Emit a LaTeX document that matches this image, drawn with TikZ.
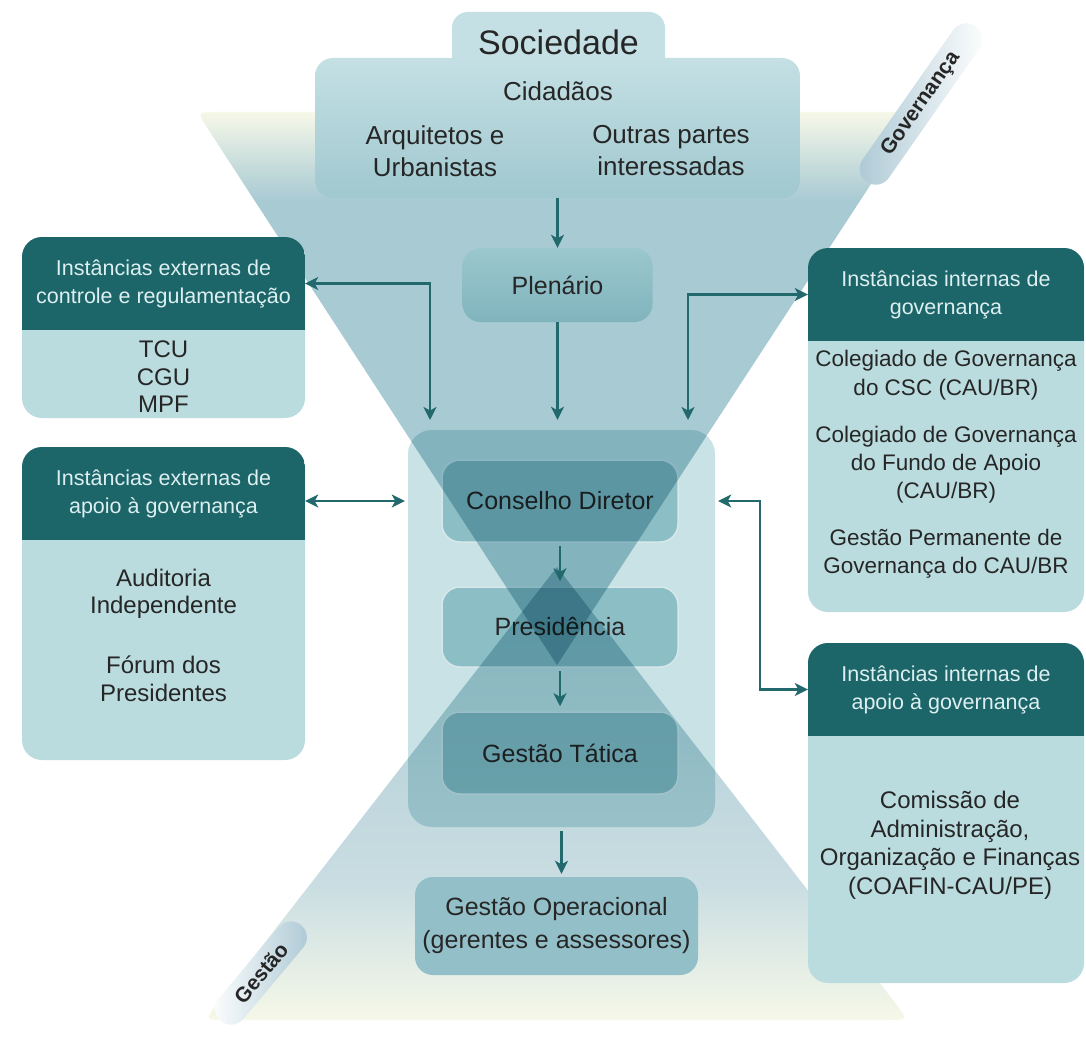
\documentclass[tikz,border=0pt]{standalone}
\usepackage{fontspec}
\setmainfont{Liberation Sans}
\usepackage{xcolor}
\usepackage{tikz}
\usetikzlibrary{shapes,arrows,arrows.meta,positioning}

\definecolor{headcol}{HTML}{1C6569}
\definecolor{headtxt}{HTML}{DDEFF0}
\definecolor{bodycol}{HTML}{BADCDF}
\definecolor{centrecol}{HTML}{C8E2E5}
\definecolor{stagecol}{HTML}{8CBEC5}
\definecolor{funnelcol}{HTML}{A8CAD3}
\definecolor{fadecol}{HTML}{C9DDE2}
\definecolor{creamcol}{HTML}{F6F8E8}
\definecolor{soctop}{HTML}{C4E0E4}
\definecolor{socbot}{HTML}{A0C8CF}
\definecolor{plentop}{HTML}{9BC7CE}
\definecolor{plenbot}{HTML}{80B4BD}
\definecolor{opcol}{HTML}{93C0C8}
\definecolor{arrowcol}{HTML}{22696E}
\definecolor{txtcol}{HTML}{262626}
\definecolor{bandcol}{HTML}{ABC8D4}

\pgfdeclareverticalshading{govfade}{100bp}{color(0bp)=(funnelcol); color(67bp)=(funnelcol); color(75bp)=(creamcol); color(100bp)=(creamcol)}
\pgfdeclareverticalshading{gesfade}{100bp}{color(0bp)=(creamcol); color(25bp)=(creamcol); color(40bp)=(fadecol); color(75bp)=(funnelcol); color(100bp)=(funnelcol)}

\tikzstyle{centre} = [rectangle, rounded corners=24pt, fill=centrecol, minimum width=307pt, minimum height=397pt]
\tikzstyle{stage} = [rectangle, rounded corners=18pt, fill=stagecol, draw=white!65!stagecol, line width=1.5pt, minimum width=236pt, minimum height=82pt, text=txtcol, font=\fontsize{25}{30}\selectfont]
\tikzstyle{funnel} = [blend mode=multiply]
\tikzstyle{band} = [rectangle, rounded corners=16pt, minimum height=32pt, text=txtcol, font=\bfseries\fontsize{21}{25}\selectfont]
\tikzstyle{soctab} = [rectangle, rounded corners=16pt, fill=soctop, minimum width=213pt, minimum height=60pt, text=txtcol, font=\fontsize{34}{40}\selectfont]
\tikzstyle{socbox} = [rectangle, rounded corners=18pt, top color=soctop, bottom color=socbot, minimum width=485pt, minimum height=140pt]
\tikzstyle{txt} = [text=txtcol, align=center, font=\fontsize{26}{32}\selectfont]
\tikzstyle{plen} = [rectangle, rounded corners=18pt, top color=plentop, bottom color=plenbot, minimum width=190pt, minimum height=74pt, text=txtcol, font=\fontsize{25}{30}\selectfont]
\tikzstyle{panel} = [rectangle, rounded corners=20pt, fill=bodycol, path picture={\fill[headcol, sharp corners] (path picture bounding box.north west) rectangle ([yshift=-93pt]path picture bounding box.north east);}]
\tikzstyle{headtext} = [text=headtxt, align=center, minimum height=93pt, font=\fontsize{21.5}{28}\selectfont]
\tikzstyle{bodytext} = [text=txtcol, align=center, font=\fontsize{24}{27.5}\selectfont]
\tikzstyle{opbox} = [rectangle, rounded corners=18pt, fill=opcol, minimum width=283pt, minimum height=98pt, text=txtcol, align=center, font=\fontsize{25}{33}\selectfont]
\tikzstyle{line} = [draw=arrowcol, line width=2.5pt, -{Stealth[length=13pt,width=13pt,inset=3.5pt]}]
\tikzstyle{dline} = [line, {Stealth[length=13pt,width=13pt,inset=3.5pt]}-{Stealth[length=13pt,width=13pt,inset=3.5pt]}]

\begin{document}
\begin{tikzpicture}[x=1pt,y=-1pt]
\path [use as bounding box, fill=white] (0,0) rectangle (1086,1038);

% central block, under the funnels
\node [centre] (cont) at (561.5,628.5) {};
\node [stage] (cd) at (560,501) {Conselho Diretor};
\node [stage, minimum height=80pt] (pres) at (560,627) {Presidência};
\node [stage] (gt) at (560,753) {Gestão Tática};

% funnels
\shade [funnel, shading=govfade] (557,665) -- (208,129) .. controls (197,112) .. (217,112) -- (918,112) -- cycle;
\shade [funnel, shading=gesfade] (557,567) -- (217,1004) .. controls (205,1020) .. (225,1020) -- (888,1020) .. controls (908,1020) .. (896,1004) -- cycle;

% labels on the funnel edges
\node [band, rotate=55, minimum width=190pt, left color=bandcol, right color=white] (gov) at (921,104) {Governança};
\node [band, rotate=50, minimum width=125pt, left color=white, right color=bandcol] (ges) at (261,973) {Gestão};

% society and plenary
\node [soctab] (soctab) at (558.5,42) {Sociedade};
\node [socbox] (soc) at (557.5,128) {};
\node [txt] (cid) at (558,91) {Cidadãos};
\node [txt] (arq) at (435,151) {Arquitetos e\\Urbanistas};
\node [txt] (out) at (671,151) {Outras partes\\interessadas};
\node [plen] (plen) at (557.5,285) {Plenário};

% external bodies
\node [panel, minimum width=283pt, minimum height=181pt] (ext1) at (163.5,327.5) {};
\node [headtext, minimum width=283pt] (ext1h) at (163.5,283.5) {Instâncias externas de\\controle e regulamentação};
\node [bodytext] (ext1b) at (163.5,377) {TCU\\CGU\\MPF};
\node [panel, minimum width=283pt, minimum height=313pt] (ext2) at (163.5,603.5) {};
\node [headtext, minimum width=283pt] (ext2h) at (163.5,493.5) {Instâncias externas de\\apoio à governança};
\node [bodytext] (aud) at (163.5,594) {Auditoria\\Independente};
\node [bodytext] (forum) at (163.5,679) {Fórum dos\\Presidentes};

% internal bodies
\node [panel, minimum width=276pt, minimum height=364pt] (int1) at (946,430) {};
\node [headtext, minimum width=276pt] (int1h) at (946,294.5) {Instâncias internas de\\governança};
\node [bodytext, font=\fontsize{22.5}{29}\selectfont] (csc) at (946,375) {Colegiado de Governança\\do CSC (CAU/BR)};
\node [bodytext, font=\fontsize{22.5}{28}\selectfont] (fundo) at (946,465) {Colegiado de Governança\\do Fundo de Apoio\\(CAU/BR)};
\node [bodytext, font=\fontsize{22.5}{28}\selectfont] (gpg) at (946,553.5) {Gestão Permanente de\\Governança do CAU/BR};
\node [panel, minimum width=276pt, minimum height=340pt] (int2) at (946,813) {};
\node [headtext, minimum width=276pt] (int2h) at (946,689.5) {Instâncias internas de\\apoio à governança};
\node [bodytext, font=\fontsize{24}{28.5}\selectfont] (coafin) at (950,845.5) {Comissão de\\Administração,\\Organização e Finanças\\(COAFIN-CAU/PE)};

% operational level
\node [opbox] (gop) at (556.5,926) {Gestão Operacional\\(gerentes e assessores)};

% connectors
\coordinate (lbend) at (430,420);
\coordinate (rbend) at (688,420);
\coordinate (rjoint) at (760,501);
\path [line] (soc) -- (plen);
\path [line, shorten >=10pt] (plen.south) -- (plen.south |- cont.north);
\path [dline] (ext1h.east) -| (lbend);
\path [dline] (rbend) |- (int1h.west);
\path [dline] (ext2.east |- cd.west) -- ([xshift=-3pt]cont.west |- cd.west);
\path [dline] ([xshift=3pt]cont.east |- cd.east) -- (rjoint) |- (int2h.west);
\path [line, shorten <=3pt, shorten >=5pt] (cd) -- (pres);
\path [line, shorten <=3pt, shorten >=5pt] (pres) -- (gt);
\path [line, shorten <=4pt, shorten >=3pt] (cont.south) -- (cont.south |- gop.north);
\end{tikzpicture}
\end{document}
